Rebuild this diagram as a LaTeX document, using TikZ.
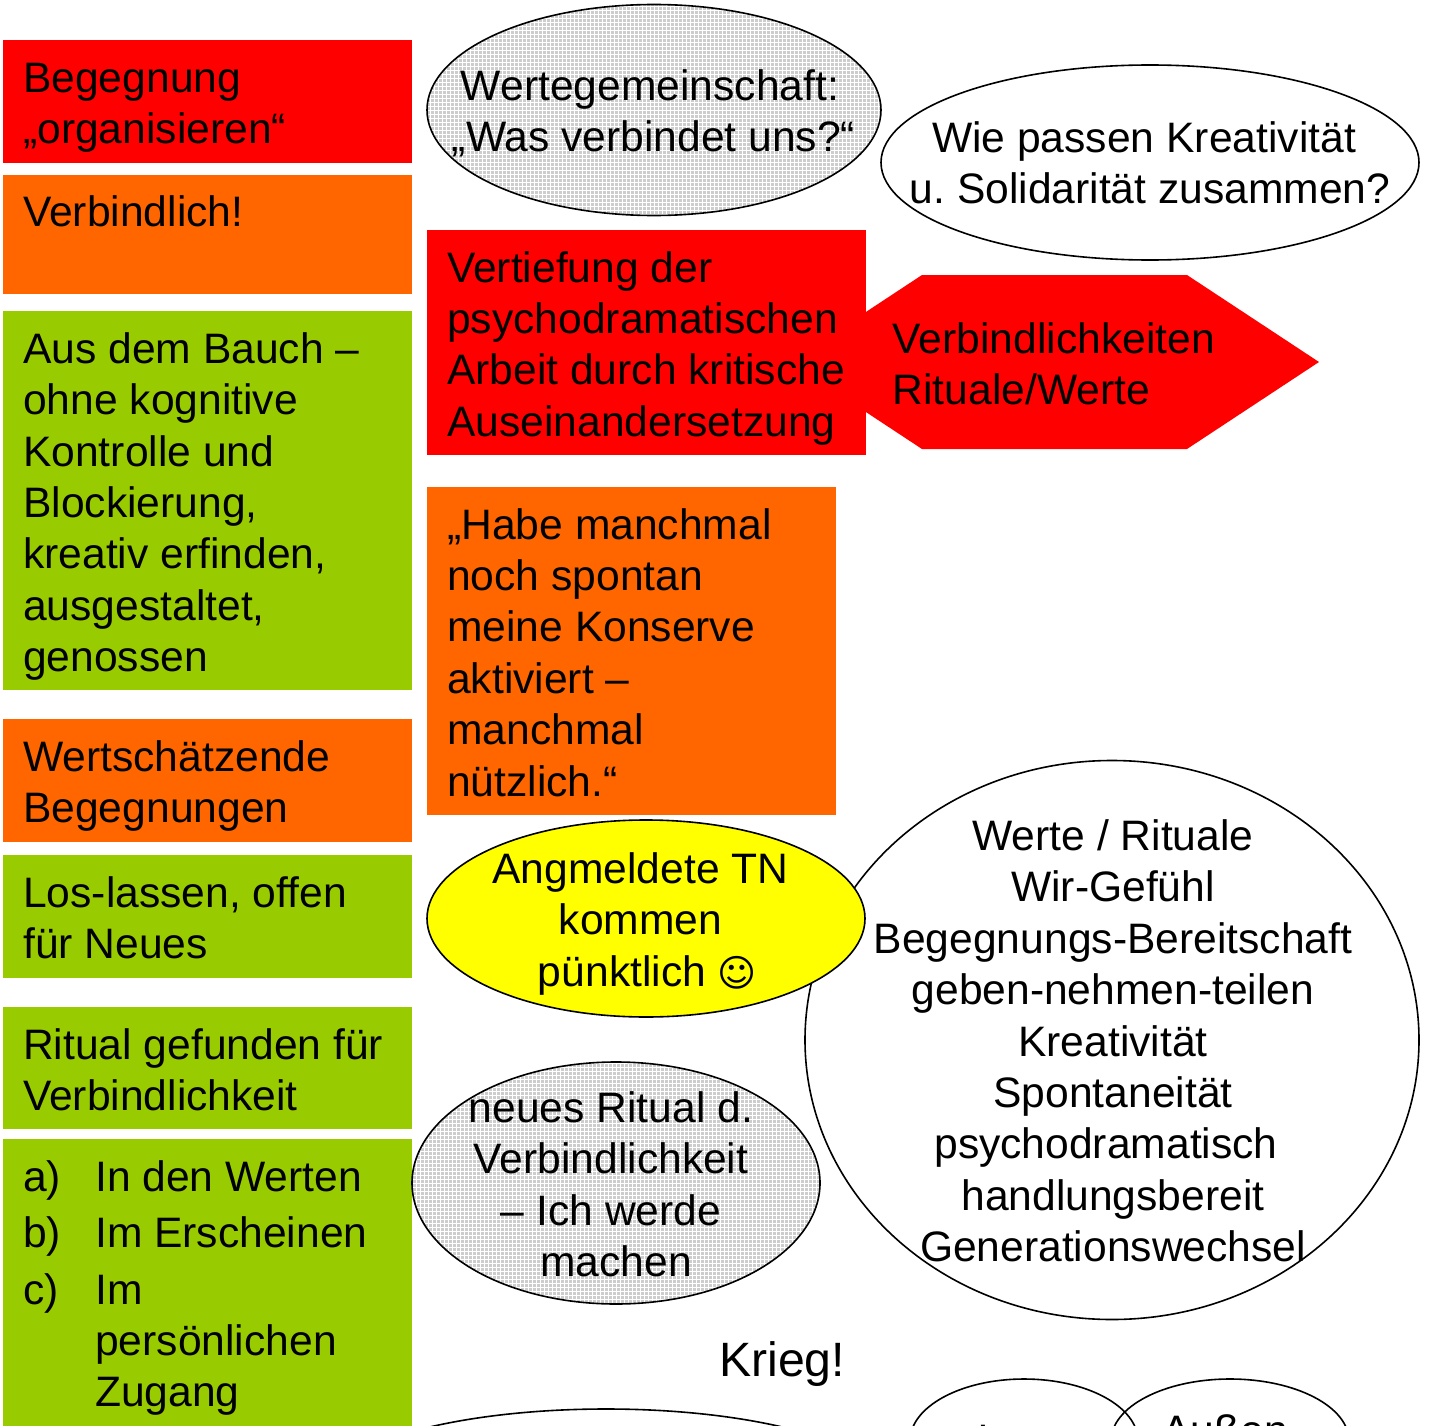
\documentclass[tikz,border=0pt]{standalone}
\usepackage{fontspec}
\setmainfont{Liberation Sans}
\newfontfamily\symfont[Scale=0.88]{DejaVu Sans}
\frenchspacing
\tikzset{
  every picture/.style={x=1pt,y=-1pt},
  fillbox/.style={draw=none,rectangle,inner sep=0pt,anchor=north west},
  redc/.style={fill=myred},
  orangec/.style={fill=myorange},
  greenc/.style={fill=mygreen},
  blob/.style={draw=black,line width=1.6pt,ellipse,inner sep=0pt},
  leftlabel/.style={anchor=north west,inner sep=0pt,align=left,font=\fontsize{42.6}{51.4}\selectfont,execute at begin node={\rule{0pt}{36pt}}},
  midlabel/.style={anchor=north,inner sep=0pt,align=center,font=\fontsize{42.6}{51.4}\selectfont,execute at begin node={\rule{0pt}{36pt}}},
  dotgrid/.style={path picture={
    \fill[mygray] (path picture bounding box.south west) rectangle (path picture bounding box.north east);
    \draw[white,line width=0.8pt,step=4pt] (path picture bounding box.south west) grid (path picture bounding box.north east);}},
}
\usetikzlibrary{shapes.geometric}
\definecolor{myred}{HTML}{FF0000}
\definecolor{myorange}{HTML}{FF6600}
\definecolor{mygreen}{HTML}{99CC00}
\definecolor{myyellow}{HTML}{FFFF00}
\definecolor{mygray}{HTML}{CDCDCD}
\begin{document}
\begin{tikzpicture}
\useasboundingbox (0,0) rectangle (1430,1426);
\clip (0,0) rectangle (1430,1426);
% left column boxes
\node[fillbox,redc,minimum width=409pt,minimum height=123pt] (b1) at (3,40) {};
\node[fillbox,orangec,minimum width=409pt,minimum height=119pt] (b2) at (3,175) {};
\node[fillbox,greenc,minimum width=409pt,minimum height=379pt] (b3) at (3,311) {};
\node[fillbox,orangec,minimum width=409pt,minimum height=123pt] (b4) at (3,719) {};
\node[fillbox,greenc,minimum width=409pt,minimum height=123pt] (b5) at (3,855) {};
\node[fillbox,greenc,minimum width=409pt,minimum height=122pt] (b6) at (3,1007) {};
\node[fillbox,greenc,minimum width=409pt,minimum height=287pt] (b7) at (3,1139) {};
\node[leftlabel] (t1) at (23,63) {Begegnung\\„organisieren“};
\node[leftlabel] (t2) at (23,190.7) {Verbindlich!};
\node[leftlabel] (t3) at (23,332.2) {Aus dem Bauch –\\ohne kognitive\\Kontrolle und\\Blockierung,\\kreativ erfinden,\\ausgestaltet,\\genossen};
\node[leftlabel] (t4) at (23,740.2) {Wertschätzende\\Begegnungen};
\node[leftlabel] (t5) at (23,876.2) {Los-lassen, offen\\für Neues};
\node[leftlabel] (t6) at (23,1028.2) {Ritual gefunden für\\Verbindlichkeit};
\node[leftlabel] (t7a) at (23,1155) {a)};
\node[leftlabel] (t7b) at (23,1211) {b)};
\node[leftlabel] (t7c) at (23,1268) {c)};
\node[leftlabel] (t7d) at (95,1155) {In den Werten};
\node[leftlabel] (t7e) at (95,1211) {Im Erscheinen};
\node[leftlabel] (t7f) at (95,1274.5) {Im\\persönlichen\\Zugang};
% top ellipses
\node[blob,dotgrid,minimum width=454pt,minimum height=211pt] (e1) at (654,110) {};
\node[midlabel] (te1) at (653.5,69) {\hspace*{-7pt}Wertegemeinschaft:\\„Was verbindet uns?“};
\node[blob,fill=white,minimum width=538pt,minimum height=195pt] (e2) at (1150,162.5) {};
\node[midlabel] (te2) at (1150,121) {Wie passen Kreativität\hspace*{12pt}\\u. Solidarität zusammen?};
% arrow shape behind the red box
\fill[myred] (922,275) -- (1187,275) -- (1319,362) -- (1187,449) -- (922,449) -- (790,362) -- cycle;
\node[leftlabel] (ta) at (892.5,322.5) {Verbindlichkeiten\\Rituale/Werte};
\node[fillbox,redc,minimum width=439pt,minimum height=225pt] (b8) at (427,230) {};
\node[leftlabel] (t8) at (447,251) {Vertiefung der\\psychodramatischen\\Arbeit durch kritische\\Auseinandersetzung};
\node[fillbox,orangec,minimum width=409pt,minimum height=328pt] (b9) at (427,487) {};
\node[leftlabel] (t9) at (447,508) {„Habe manchmal\\noch spontan\\meine Konserve\\aktiviert –\\manchmal\\nützlich.“};
% big circle
\node[blob,fill=white,minimum width=614pt,minimum height=559pt] (c1) at (1112,1040) {};
\node[midlabel] (tc1) at (1113,819.5) {Werte / Rituale\\Wir-Gefühl\\Begegnungs-Bereitschaft\\geben-nehmen-teilen\\Kreativität\\Spontaneität\\psychodramatisch\hspace*{14pt}\null\\handlungsbereit\\Generationswechsel};
% yellow ellipse
\node[blob,fill=myyellow,minimum width=438pt,minimum height=197pt] (e3) at (646,918.5) {};
\node[midlabel] (te3) at (640.5,852.5) {Angmeldete TN\\kommen\\\hspace*{14pt}pünktlich {\symfont ☺}};
% second gray ellipse
\node[blob,dotgrid,minimum width=408pt,minimum height=242pt] (e4) at (616,1183) {};
\node[midlabel] (te4) at (611,1091.5) {neues Ritual d.\\Verbindlichkeit\\– Ich werde\\\hspace*{10pt}machen};
% bottom
\node[anchor=north west,inner sep=0pt,font=\fontsize{48.2}{55}\selectfont,execute at begin node={\rule{0pt}{40pt}}] (k) at (719,1336) {Krieg!};
\node[blob,fill=white,minimum width=570pt,minimum height=168pt] (e5) at (606,1493) {};
\node[blob,minimum width=228pt,minimum height=124pt] (c2) at (1024,1441) {};
\node[blob,minimum width=238pt,minimum height=124pt] (c3) at (1230,1441) {};
\node[midlabel] (tc3) at (1225,1409) {Außen};
\node[midlabel] (tc2) at (1031,1418) {Innen};
\end{tikzpicture}
\end{document}
